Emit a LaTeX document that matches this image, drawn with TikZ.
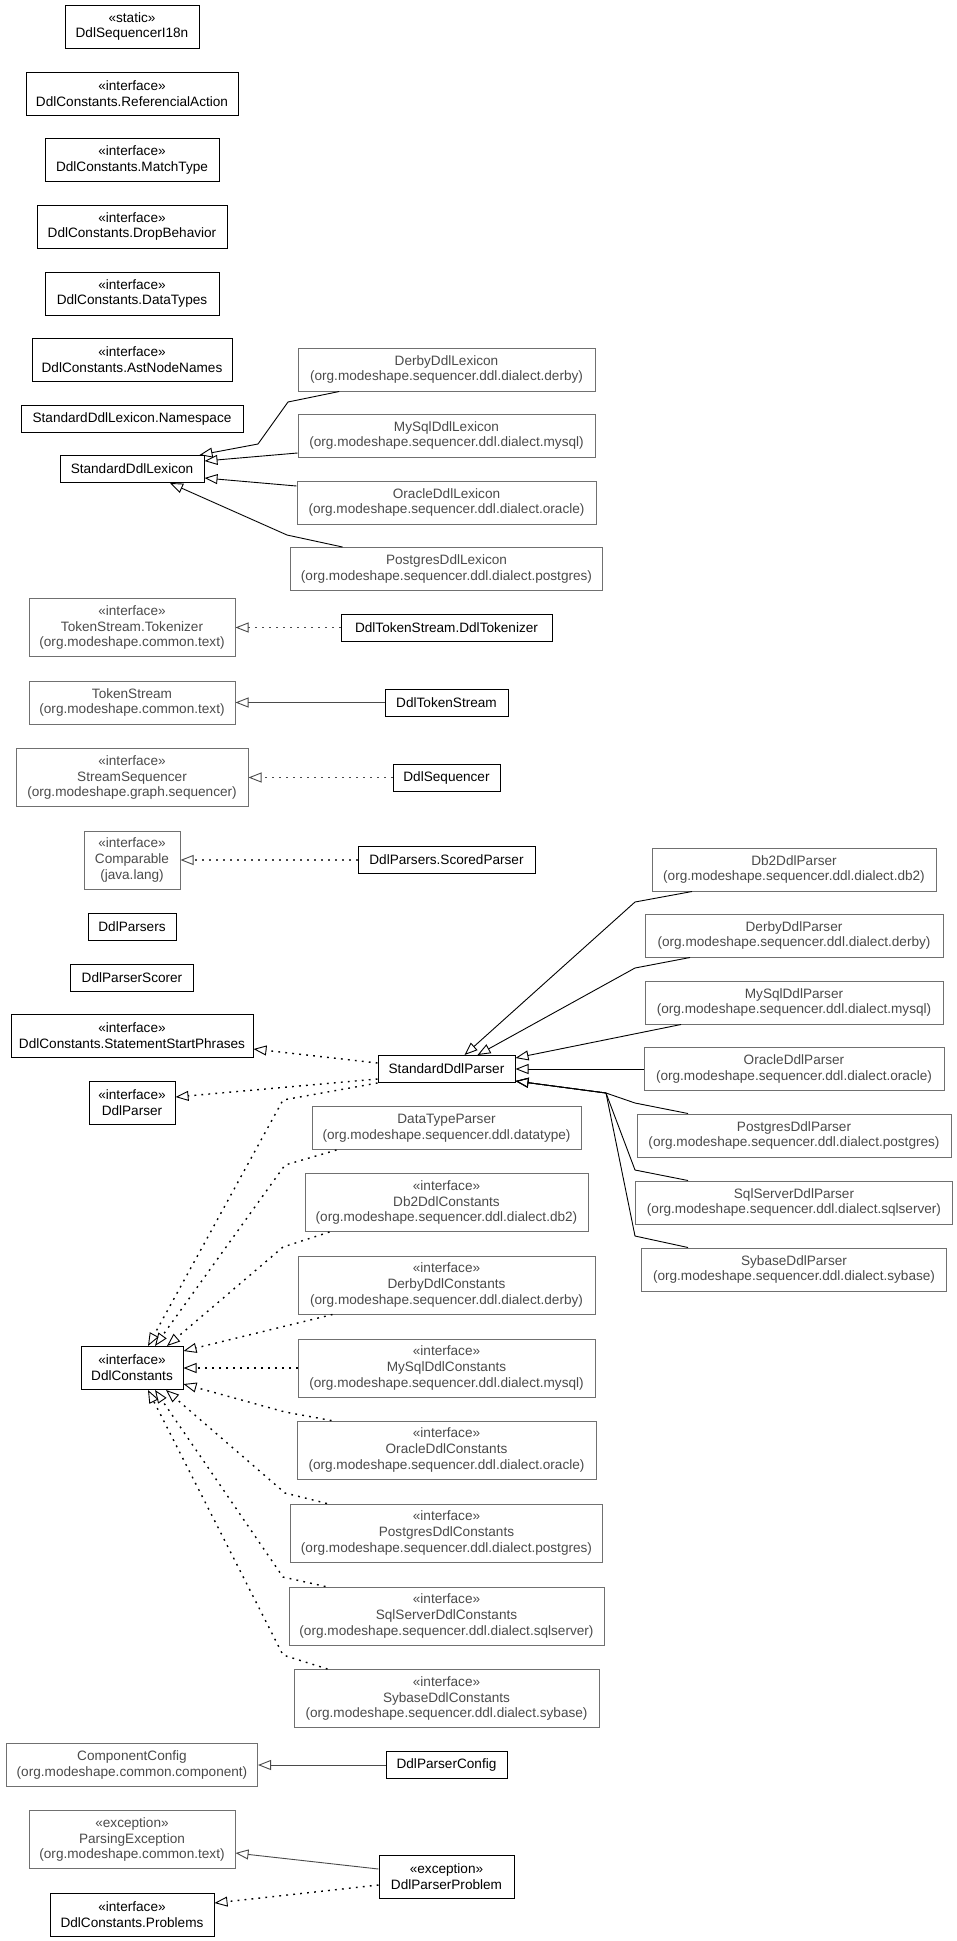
\documentclass[tikz,border=0pt]{standalone}
\usepackage{fontspec}
\setmainfont{Liberation Sans}
\usepackage{tikz}
\usetikzlibrary{arrows.meta,positioning,calc}
\definecolor{umlGrey}{HTML}{4A4A4A}
\definecolor{umlGreyLine}{HTML}{707070}
\tikzset{
    umlBase/.style={
        rectangle,
        draw,
        line width=1pt,
        font=\fontsize{13.6}{15.8}\selectfont,
        align=center,
        inner xsep=2pt,
        inner ysep=1pt
    },
    % Classes of this package / external ones
    umlClass/.style={umlBase, draw=black, text=black},
    umlExt/.style={umlBase, draw=umlGreyLine, text=umlGrey},
    oneLine/.style={minimum height=27pt},
    twoLine/.style={minimum height=43pt},
    threeLine/.style={minimum height=58pt},
    % Arrows
    umlGen/.style={-{Triangle[open, length=13pt, width=10pt, line width=0.9pt]}, line width=0.9pt, draw=black},
    umlReal/.style={umlGen, line width=1.4pt, dash pattern=on 1.8pt off 5.2pt},
    toExt/.style={draw=umlGrey}
}

\begin{document}
\begin{tikzpicture}[x=1pt, y=-1pt]
    \useasboundingbox (0,0) rectangle (957,1941);

    % Left column
    \node[umlClass, twoLine, minimum width=134pt] (i18n) at (132,26.5) {«static»\\DdlSequencerI18n};
    \node[umlClass, twoLine, minimum width=212pt] (refAction) at (132,93.5) {«interface»\\DdlConstants.ReferencialAction};
    \node[umlClass, twoLine, minimum width=174pt] (matchType) at (132,160) {«interface»\\DdlConstants.MatchType};
    \node[umlClass, twoLine, minimum width=190pt] (dropBehavior) at (132,226.5) {«interface»\\DdlConstants.DropBehavior};
    \node[umlClass, twoLine, minimum width=174pt] (dataTypes) at (132,293.5) {«interface»\\DdlConstants.DataTypes};
    \node[umlClass, twoLine, minimum width=200pt] (astNodeNames) at (132,360) {«interface»\\DdlConstants.AstNodeNames};
    \node[umlClass, oneLine, minimum width=222pt] (lexNamespace) at (132,418.5) {StandardDdlLexicon.Namespace};
    \node[umlClass, oneLine, minimum width=144pt] (stdLex) at (132,469) {StandardDdlLexicon};
    \node[umlExt, threeLine, minimum width=206pt] (tokenizer) at (132,627.5) {«interface»\\TokenStream.Tokenizer\\(org.modeshape.common.text)};
    \node[umlExt, twoLine, minimum width=206pt] (tokenStream) at (132,702.5) {TokenStream\\(org.modeshape.common.text)};
    \node[umlExt, threeLine, minimum width=232pt] (streamSeq) at (132,777.5) {«interface»\\StreamSequencer\\(org.modeshape.graph.sequencer)};
    \node[umlExt, threeLine, minimum width=96pt] (comparable) at (132,860) {«interface»\\Comparable\\(java.lang)};
    \node[umlClass, oneLine, minimum width=88pt] (ddlParsers) at (132,926.5) {DdlParsers};
    \node[umlClass, oneLine, minimum width=123pt] (parserScorer) at (132,977.5) {DdlParserScorer};
    \node[umlClass, twoLine, minimum width=242pt] (startPhrases) at (132,1035.5) {«interface»\\DdlConstants.StatementStartPhrases};
    \node[umlClass, twoLine, minimum width=86pt] (ddlParser) at (132,1102.5) {«interface»\\DdlParser};
    \node[umlClass, twoLine, minimum width=102pt] (ddlConstants) at (132,1368) {«interface»\\DdlConstants};
    \node[umlExt, twoLine, minimum width=251pt] (componentConfig) at (132,1765) {ComponentConfig\\(org.modeshape.common.component)};
    \node[umlExt, threeLine, minimum width=206pt] (parsingException) at (132,1839.5) {«exception»\\ParsingException\\(org.modeshape.common.text)};
    \node[umlClass, twoLine, minimum width=164pt] (problems) at (132,1915) {«interface»\\DdlConstants.Problems};

    % Middle column
    \node[umlExt, twoLine, minimum width=297pt] (derbyLex) at (446.5,369.5) {DerbyDdlLexicon\\(org.modeshape.sequencer.ddl.dialect.derby)};
    \node[umlExt, twoLine, minimum width=297pt] (mysqlLex) at (446.5,435.5) {MySqlDdlLexicon\\(org.modeshape.sequencer.ddl.dialect.mysql)};
    \node[umlExt, twoLine, minimum width=299pt] (oracleLex) at (446.5,502.5) {OracleDdlLexicon\\(org.modeshape.sequencer.ddl.dialect.oracle)};
    \node[umlExt, twoLine, minimum width=312pt] (postgresLex) at (446.5,569) {PostgresDdlLexicon\\(org.modeshape.sequencer.ddl.dialect.postgres)};
    \node[umlClass, oneLine, minimum width=211pt] (ddlTokenizer) at (446.5,627.5) {DdlTokenStream.DdlTokenizer};
    \node[umlClass, oneLine, minimum width=123pt] (ddlTokenStream) at (446.5,702.5) {DdlTokenStream};
    \node[umlClass, oneLine, minimum width=107pt] (ddlSequencer) at (446.5,777.5) {DdlSequencer};
    \node[umlClass, oneLine, minimum width=177pt] (scoredParser) at (446.5,860) {DdlParsers.ScoredParser};
    \node[umlClass, oneLine, minimum width=137pt] (stdParser) at (446.5,1069) {StandardDdlParser};
    \node[umlExt, twoLine, minimum width=269pt] (dataTypeParser) at (446.5,1128) {DataTypeParser\\(org.modeshape.sequencer.ddl.datatype)};
    \node[umlExt, threeLine, minimum width=283pt] (db2Const) at (446.5,1202.5) {«interface»\\Db2DdlConstants\\(org.modeshape.sequencer.ddl.dialect.db2)};
    \node[umlExt, threeLine, minimum width=297pt] (derbyConst) at (446.5,1285) {«interface»\\DerbyDdlConstants\\(org.modeshape.sequencer.ddl.dialect.derby)};
    \node[umlExt, threeLine, minimum width=297pt] (mysqlConst) at (446.5,1368) {«interface»\\MySqlDdlConstants\\(org.modeshape.sequencer.ddl.dialect.mysql)};
    \node[umlExt, threeLine, minimum width=299pt] (oracleConst) at (446.5,1450) {«interface»\\OracleDdlConstants\\(org.modeshape.sequencer.ddl.dialect.oracle)};
    \node[umlExt, threeLine, minimum width=312pt] (postgresConst) at (446.5,1533) {«interface»\\PostgresDdlConstants\\(org.modeshape.sequencer.ddl.dialect.postgres)};
    \node[umlExt, threeLine, minimum width=315pt] (sqlserverConst) at (446.5,1616) {«interface»\\SqlServerDdlConstants\\(org.modeshape.sequencer.ddl.dialect.sqlserver)};
    \node[umlExt, threeLine, minimum width=305pt] (sybaseConst) at (446.5,1698.5) {«interface»\\SybaseDdlConstants\\(org.modeshape.sequencer.ddl.dialect.sybase)};
    \node[umlClass, oneLine, minimum width=121pt] (parserConfig) at (446.5,1765) {DdlParserConfig};
    \node[umlClass, twoLine, minimum width=135pt] (parserProblem) at (446.5,1877) {«exception»\\DdlParserProblem};

    % Right column
    \node[umlExt, twoLine, minimum width=284pt] (db2Parser) at (794,869.5) {Db2DdlParser\\(org.modeshape.sequencer.ddl.dialect.db2)};
    \node[umlExt, twoLine, minimum width=298pt] (derbyParser) at (794,935.5) {DerbyDdlParser\\(org.modeshape.sequencer.ddl.dialect.derby)};
    \node[umlExt, twoLine, minimum width=298pt] (mysqlParser) at (794,1002.5) {MySqlDdlParser\\(org.modeshape.sequencer.ddl.dialect.mysql)};
    \node[umlExt, twoLine, minimum width=300pt] (oracleParser) at (794,1069) {OracleDdlParser\\(org.modeshape.sequencer.ddl.dialect.oracle)};
    \node[umlExt, twoLine, minimum width=314pt] (postgresParser) at (794,1135.5) {PostgresDdlParser\\(org.modeshape.sequencer.ddl.dialect.postgres)};
    \node[umlExt, twoLine, minimum width=317pt] (sqlserverParser) at (794,1202.5) {SqlServerDdlParser\\(org.modeshape.sequencer.ddl.dialect.sqlserver)};
    \node[umlExt, twoLine, minimum width=305pt] (sybaseParser) at (794,1269.5) {SybaseDdlParser\\(org.modeshape.sequencer.ddl.dialect.sybase)};

    % Lexicon
    \draw[umlGen] (derbyLex) -- (288,402) -- (258,444) -- ([xshift=-5pt]stdLex.north east);
    \draw[umlGen] ([yshift=-17.5pt]mysqlLex.west) -- ([yshift=8pt]stdLex.east);
    \draw[umlGen] ([yshift=16.5pt]oracleLex.west) -- ([yshift=-9pt]stdLex.east);
    \draw[umlGen] ([xshift=-104pt]postgresLex.north) -- (287,535) -- ([xshift=38pt]stdLex.south);

    % Tokens and sequencer
    \draw[umlReal, toExt] (ddlTokenizer) -- (tokenizer);
    \draw[umlGen, toExt] (ddlTokenStream) -- (tokenStream);
    \draw[umlReal, toExt] (ddlSequencer) -- (streamSeq);
    \draw[umlReal, toExt] (scoredParser) -- (comparable);

    % Parsers
    \draw[umlGen] ([xshift=-102pt]db2Parser.south) -- (635,902) -- ([xshift=18pt]stdParser.north);
    \draw[umlGen] ([xshift=-104pt]derbyParser.south) -- (635,968) -- ([xshift=31pt]stdParser.north);
    \draw[umlGen] ([xshift=-113pt]mysqlParser.south) -- ([yshift=-3pt]stdParser.north east);
    \draw[umlGen] (oracleParser) -- (stdParser);
    \draw[umlGen] ([xshift=-106pt]postgresParser.north) -- (635,1103) -- (606,1093) -- ([yshift=2pt]stdParser.south east);
    \draw[umlGen] ([xshift=-106pt]sqlserverParser.north) -- (635,1170) -- (606,1093) -- ([yshift=2pt]stdParser.south east);
    \draw[umlGen] ([xshift=-106pt]sybaseParser.north) -- (635,1236) -- (606,1093) -- ([yshift=2pt]stdParser.south east);

    % Constants
    \draw[umlReal] ([yshift=6pt]stdParser.west) -- ([yshift=-13.5pt]startPhrases.east);
    \draw[umlReal] ([yshift=-10pt]stdParser.west) -- ([yshift=5.5pt]ddlParser.east);
    \draw[umlReal] (stdParser.south west) -- (283,1100) -- ([xshift=16pt]ddlConstants.north);
    \draw[umlReal] ([xshift=25pt]dataTypeParser.south west) -- (285,1165) -- ([xshift=23pt]ddlConstants.north);
    \draw[umlReal] ([xshift=25pt]db2Const.south west) -- (283,1247) -- ([xshift=35pt]ddlConstants.north);
    \draw[umlReal] ([xshift=35pt]derbyConst.south west) -- ([yshift=-5pt]ddlConstants.north east);
    \draw[umlReal] (mysqlConst) -- (ddlConstants);
    \draw[umlReal] ([xshift=35pt]oracleConst.north west) -- (285,1412) -- ([yshift=6pt]ddlConstants.south east);
    \draw[umlReal] ([xshift=37pt]postgresConst.north west) -- (285,1493) -- ([xshift=34pt]ddlConstants.south);
    \draw[umlReal] ([xshift=37pt]sqlserverConst.north west) -- (283,1577) -- ([xshift=23pt]ddlConstants.south);
    \draw[umlReal] ([xshift=34pt]sybaseConst.north west) -- (283,1655) -- ([xshift=16pt]ddlConstants.south);

    % Config and problems
    \draw[umlGen, toExt] (parserConfig) -- (componentConfig);
    \draw[umlGen, toExt] ([yshift=8pt]parserProblem.west) -- ([yshift=-13.5pt]parsingException.east);
    \draw[umlReal] ([yshift=-8pt]parserProblem.west) -- ([yshift=12pt]problems.east);
\end{tikzpicture}
\end{document}
